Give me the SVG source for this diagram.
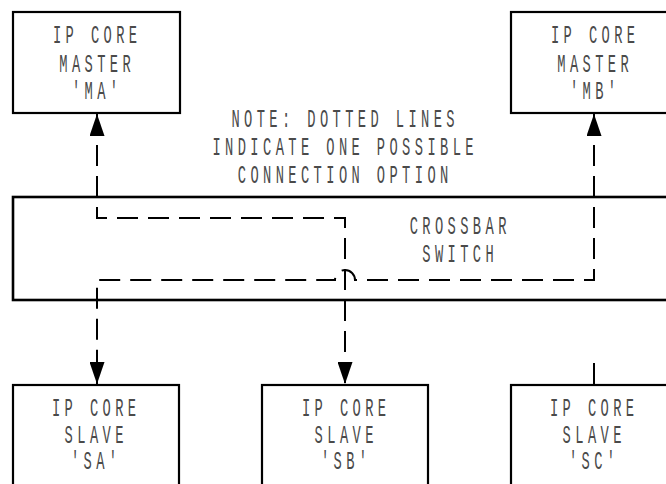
<svg xmlns="http://www.w3.org/2000/svg" width="666" height="484" viewBox="0 0 666 484">
<style>
.box{fill:#fff;stroke:#000;stroke-width:2.2}
.bar{fill:#fff;stroke:#000;stroke-width:2.6}
.t{font-family:"Liberation Mono","DejaVu Sans Mono",monospace;font-size:25px;letter-spacing:8px;fill:#4a4a4a;text-anchor:middle}
.dash{fill:none;stroke:#000;stroke-width:2;stroke-dasharray:21 10}
.solid{fill:none;stroke:#000;stroke-width:2}
</style>
<defs>
<marker id="ah" viewBox="0 0 22 15" refX="22" refY="7.5" markerWidth="22" markerHeight="15" markerUnits="userSpaceOnUse" orient="auto-start-reverse">
<path d="M0,0 L22,7.5 L0,15 Z" fill="#000"/>
</marker>
</defs>
<rect width="666" height="484" fill="#fff"/>
<g id="crossbar">
<rect class="bar" x="13" y="197" width="670" height="103"/>
<text class="t" transform="translate(458,234) scale(0.55,1)" x="4">CROSSBAR</text>
<text class="t" transform="translate(458,262) scale(0.55,1)" x="4">SWITCH</text>
</g>
<g id="MA">
<rect class="box" x="13" y="12" width="167" height="101"/>
<text class="t" transform="translate(95,43) scale(0.55,1)" x="4">IP CORE</text>
<text class="t" transform="translate(95,72) scale(0.55,1)" x="4">MASTER</text>
<text class="t" transform="translate(95,99) scale(0.55,1)" x="4">'MA'</text>
</g>
<g id="MB">
<rect class="box" x="511" y="12" width="170" height="101"/>
<text class="t" transform="translate(593,43) scale(0.55,1)" x="4">IP CORE</text>
<text class="t" transform="translate(593,72) scale(0.55,1)" x="4">MASTER</text>
<text class="t" transform="translate(593,99) scale(0.55,1)" x="4">'MB'</text>
</g>
<g id="note">
<text class="t" transform="translate(343,127) scale(0.55,1)" x="4">NOTE: DOTTED LINES</text>
<text class="t" transform="translate(343,155) scale(0.55,1)" x="4">INDICATE ONE POSSIBLE</text>
<text class="t" transform="translate(343,183) scale(0.55,1)" x="4">CONNECTION OPTION</text>
</g>
<g id="SA">
<rect class="box" x="13" y="385" width="166" height="110"/>
<text class="t" transform="translate(94,416) scale(0.55,1)" x="4">IP CORE</text>
<text class="t" transform="translate(94,443) scale(0.55,1)" x="4">SLAVE</text>
<text class="t" transform="translate(94,469) scale(0.55,1)" x="4">'SA'</text>
</g>
<g id="SB">
<rect class="box" x="262" y="385" width="166" height="110"/>
<text class="t" transform="translate(344,416) scale(0.55,1)" x="4">IP CORE</text>
<text class="t" transform="translate(344,443) scale(0.55,1)" x="4">SLAVE</text>
<text class="t" transform="translate(344,469) scale(0.55,1)" x="4">'SB'</text>
</g>
<g id="SC">
<rect class="box" x="511" y="385" width="170" height="110"/>
<text class="t" transform="translate(592,416) scale(0.55,1)" x="4">IP CORE</text>
<text class="t" transform="translate(592,443) scale(0.55,1)" x="4">SLAVE</text>
<text class="t" transform="translate(592,469) scale(0.55,1)" x="4">'SC'</text>
</g>
<g id="connectors">
<path class="dash" d="M97,114 V218 H345 V384" marker-start="url(#ah)" marker-end="url(#ah)"/>
<path class="dash" d="M594,114 V280 H355 A10,10 0 0 0 335,280 H97 V384" marker-start="url(#ah)" marker-end="url(#ah)"/>
<path class="solid" d="M594,363 V385"/>
</g>
</svg>
